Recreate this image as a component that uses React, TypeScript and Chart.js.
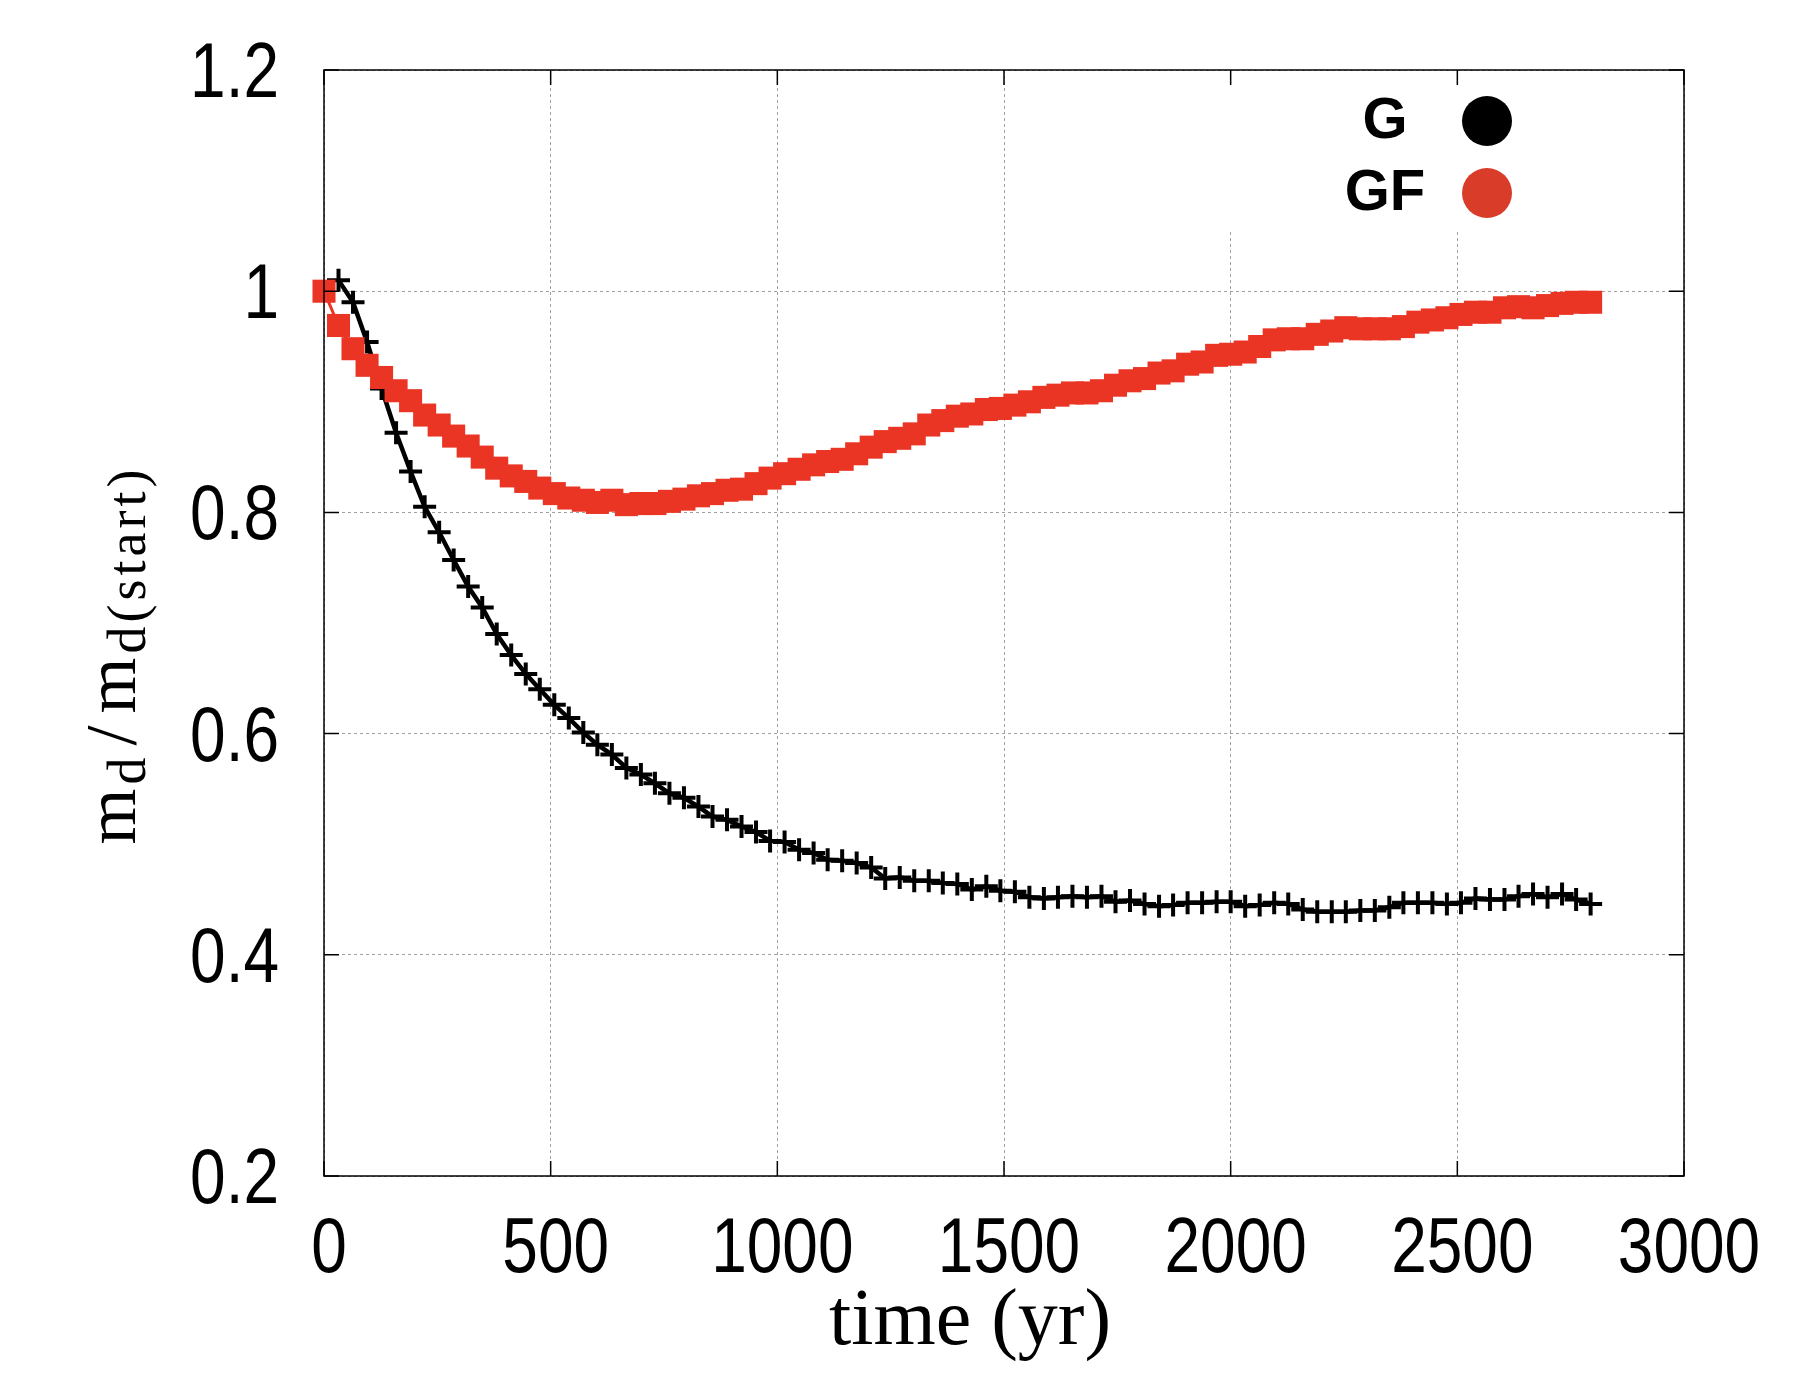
"use client"

import { useEffect, useRef } from "react"
import { Chart, registerables } from "chart.js"

Chart.register(...registerables)

const WIDTH = 1800
const HEIGHT = 1400

// sample times (yr)
const TIME = [
  0, 32, 64, 95, 127, 159, 191, 222, 254, 286,
  318, 349, 381, 413, 445, 476, 508, 540, 572, 603,
  635, 667, 699, 730, 762, 794, 826, 857, 889, 921,
  953, 984, 1016, 1048, 1080, 1111, 1143, 1175, 1207, 1238,
  1270, 1302, 1334, 1365, 1397, 1429, 1461, 1492, 1524, 1556,
  1588, 1619, 1651, 1683, 1715, 1746, 1778, 1810, 1842, 1873,
  1905, 1937, 1969, 2000, 2032, 2064, 2096, 2127, 2159, 2191,
  2223, 2254, 2286, 2318, 2350, 2381, 2413, 2445, 2477, 2508,
  2540, 2572, 2604, 2635, 2667, 2699, 2731, 2762, 2794,
]

// m_d / m_d(start), run GF
const GF_MASS = [
  1.0, 0.969, 0.948, 0.933, 0.922, 0.91, 0.901, 0.888, 0.879, 0.869,
  0.86, 0.85, 0.84, 0.833, 0.828, 0.822, 0.817, 0.813, 0.811, 0.809,
  0.811, 0.807, 0.808, 0.808, 0.81, 0.812, 0.815, 0.817, 0.82, 0.821,
  0.826, 0.831, 0.835, 0.839, 0.843, 0.846, 0.848, 0.853, 0.859, 0.864,
  0.867, 0.871, 0.879, 0.883, 0.887, 0.889, 0.893, 0.894, 0.897, 0.9,
  0.904, 0.906, 0.908, 0.908, 0.91, 0.915, 0.919, 0.921, 0.926, 0.928,
  0.934, 0.936, 0.942, 0.943, 0.945, 0.95, 0.956, 0.957, 0.957, 0.961,
  0.964, 0.967, 0.966, 0.966, 0.966, 0.968, 0.972, 0.974, 0.976, 0.979,
  0.981, 0.981, 0.985, 0.986, 0.985, 0.987, 0.989, 0.99, 0.99,
]

// m_d / m_d(start), run G (no sample at t = 0)
const G_MASS = [
  null, 1.01, 0.99, 0.954, 0.912, 0.872, 0.837, 0.805, 0.782, 0.757,
  0.733, 0.714, 0.69, 0.671, 0.654, 0.64, 0.626, 0.614, 0.601, 0.59,
  0.581, 0.569, 0.563, 0.555, 0.546, 0.542, 0.534, 0.525, 0.522, 0.516,
  0.511, 0.503, 0.502, 0.495, 0.492, 0.486, 0.485, 0.483, 0.479, 0.469,
  0.47, 0.467, 0.467, 0.465, 0.464, 0.459, 0.462, 0.458, 0.457, 0.452,
  0.451, 0.452, 0.453, 0.452, 0.453, 0.448, 0.449, 0.446, 0.444, 0.445,
  0.447, 0.447, 0.448, 0.448, 0.444, 0.445, 0.447, 0.446, 0.441, 0.439,
  0.439, 0.439, 0.44, 0.44, 0.443, 0.447, 0.447, 0.447, 0.446, 0.447,
  0.451, 0.45, 0.45, 0.453, 0.455, 0.452, 0.455, 0.45, 0.446,
]

const X_TICKS = [0, 500, 1000, 1500, 2000, 2500, 3000]
const Y_TICKS = [0.2, 0.4, 0.6, 0.8, 1, 1.2]
const SERIES_LABELS = ["G", "GF"]

const BLACK = "#000000"
const RED = "#ea3525"
const KEY_COLORS = [BLACK, "#d93c28"]
const AREA = { left: 324, right: 1684, top: 70, bottom: 1176 }
const SERIF = "'Liberation Serif', 'DejaVu Serif', serif"
const SANS = "'Liberation Sans', Arial, sans-serif"

const toPoints = (ys: (number | null)[]) => TIME.map((t, i) => ({ x: t, y: ys[i] }))

// narrow Helvetica look: squeeze the glyphs horizontally
function narrowText(ctx: CanvasRenderingContext2D, text: string, x: number, y: number, align: CanvasTextAlign) {
  ctx.save()
  ctx.translate(x, y)
  ctx.scale(0.82, 1)
  ctx.textAlign = align
  ctx.fillText(text, 0, 0)
  ctx.restore()
}

// gnuplot-ish frame: opaque key box, mirrored inward ticks, tick labels, key and axis titles
const framePlugin = {
  id: "gnuplotFrame",
  beforeDatasetsDraw(chart: any) {
    const { ctx, chartArea: a } = chart
    ctx.save()
    ctx.fillStyle = "#ffffff"
    ctx.fillRect(1200, a.top + 1, a.right - 1201, 230 - a.top)
    ctx.restore()
  },
  afterDraw(chart: any) {
    const { ctx, chartArea: a, scales } = chart
    ctx.save()
    ctx.setLineDash([])
    ctx.strokeStyle = BLACK
    ctx.lineWidth = 1.5
    ctx.beginPath()
    scales.x.ticks.forEach((t: any) => {
      const x = scales.x.getPixelForValue(t.value)
      ctx.moveTo(x, a.bottom)
      ctx.lineTo(x, a.bottom - 15)
      ctx.moveTo(x, a.top)
      ctx.lineTo(x, a.top + 15)
    })
    scales.y.ticks.forEach((t: any) => {
      const y = scales.y.getPixelForValue(t.value)
      ctx.moveTo(a.left, y)
      ctx.lineTo(a.left + 15, y)
      ctx.moveTo(a.right, y)
      ctx.lineTo(a.right - 15, y)
    })
    ctx.stroke()
    ctx.strokeRect(a.left, a.top, a.right - a.left, a.bottom - a.top)

    // tick labels
    ctx.fillStyle = BLACK
    ctx.font = `78px ${SANS}`
    ctx.textBaseline = "alphabetic"
    scales.x.ticks.forEach((t: any) => {
      narrowText(ctx, String(t.value), scales.x.getPixelForValue(t.value) + 5, a.bottom + 96, "center")
    })
    scales.y.ticks.forEach((t: any) => {
      narrowText(ctx, String(+Number(t.value).toFixed(1)), a.left - 45, scales.y.getPixelForValue(t.value) + 27, "right")
    })

    // key
    ctx.font = `bold 58px ${SANS}`
    ctx.textAlign = "center"
    ctx.textBaseline = "middle"
    chart.data.datasets.forEach((ds: any, i: number) => {
      const y = 122 + i * 72
      ctx.fillStyle = BLACK
      ctx.fillText(ds.label, 1385, y)
      ctx.beginPath()
      ctx.arc(1487, y - 1, 25, 0, Math.PI * 2)
      ctx.fillStyle = KEY_COLORS[i]
      ctx.fill()
    })

    // x title
    ctx.fillStyle = BLACK
    ctx.textAlign = "center"
    ctx.textBaseline = "alphabetic"
    ctx.font = `80px ${SERIF}`
    ctx.fillText("time (yr)", 970, 1344)

    // y title with subscripts
    const parts = [
      { t: "m", sub: false },
      { t: "d", sub: true },
      { t: "/", sub: false },
      { t: "m", sub: false },
      { t: "d(start)", sub: true },
    ]
    const fontFor = (sub: boolean) => (sub ? `54px ${SERIF}` : `72px ${SERIF}`)
    ;(ctx as any).letterSpacing = "4px"
    let total = 0
    const widths = parts.map((p) => {
      ctx.font = fontFor(p.sub)
      const w = ctx.measureText(p.t).width + (p.t === "/" ? 16 : 0)
      total += w
      return w
    })
    ctx.translate(135, 655)
    ctx.rotate(-Math.PI / 2)
    ctx.textAlign = "left"
    let cx = -total / 2
    parts.forEach((p, i) => {
      ctx.font = fontFor(p.sub)
      ctx.fillText(p.t, cx + (p.t === "/" ? 8 : 0), p.sub ? 10 : 0)
      cx += widths[i]
    })
    ctx.restore()
  },
}

export default function App() {
  const canvasRef = useRef<HTMLCanvasElement | null>(null)

  useEffect(() => {
    document.body.style.margin = "0"
    if (!canvasRef.current) return
    const ctx = canvasRef.current.getContext("2d")
    if (!ctx) return

    const chart = new Chart(ctx, {
      type: "line",
      data: {
        datasets: [
          {
            label: SERIES_LABELS[0],
            data: toPoints(G_MASS),
            borderColor: BLACK,
            borderWidth: 4.5,
            pointStyle: "cross",
            pointRadius: 11.5,
            pointBorderWidth: 4,
            pointBorderColor: BLACK,
            pointBackgroundColor: BLACK,
            clip: false,
            order: 2,
          },
          {
            label: SERIES_LABELS[1],
            data: toPoints(GF_MASS),
            borderColor: RED,
            borderWidth: 3,
            pointStyle: "rect",
            pointRadius: 16.3,
            pointBorderWidth: 0,
            pointBackgroundColor: RED,
            clip: false,
            order: 1,
          },
        ],
      },
      options: {
        responsive: false,
        animation: false,
        layout: {
          padding: { top: AREA.top, right: WIDTH - AREA.right, left: 0, bottom: 0 },
        },
        plugins: {
          legend: { display: false },
          tooltip: { enabled: false },
        },
        scales: {
          x: {
            type: "linear",
            min: 0,
            max: 3000,
            afterBuildTicks: (scale: any) => {
              scale.ticks = X_TICKS.map((v) => ({ value: v }))
            },
            afterFit: (scale: any) => {
              scale.height = HEIGHT - AREA.bottom
              scale.paddingLeft = 0
              scale.paddingRight = 0
            },
            ticks: { display: false },
            grid: { color: "#a0a0a0", lineWidth: 1, drawTicks: false },
            border: { display: false, dash: [3, 3] },
          },
          y: {
            type: "linear",
            min: 0.2,
            max: 1.2,
            afterBuildTicks: (scale: any) => {
              scale.ticks = Y_TICKS.map((v) => ({ value: v }))
            },
            afterFit: (scale: any) => {
              scale.width = AREA.left
              scale.paddingTop = 0
              scale.paddingBottom = 0
            },
            ticks: { display: false },
            grid: { color: "#a0a0a0", lineWidth: 1, drawTicks: false },
            border: { display: false, dash: [3, 3] },
          },
        },
      },
      plugins: [framePlugin],
    })

    return () => {
      chart.destroy()
    }
  }, [])

  return (
    <div style={{ width: `${WIDTH}px`, height: `${HEIGHT}px` }}>
      <canvas ref={canvasRef} width={WIDTH} height={HEIGHT}></canvas>
    </div>
  )
}
